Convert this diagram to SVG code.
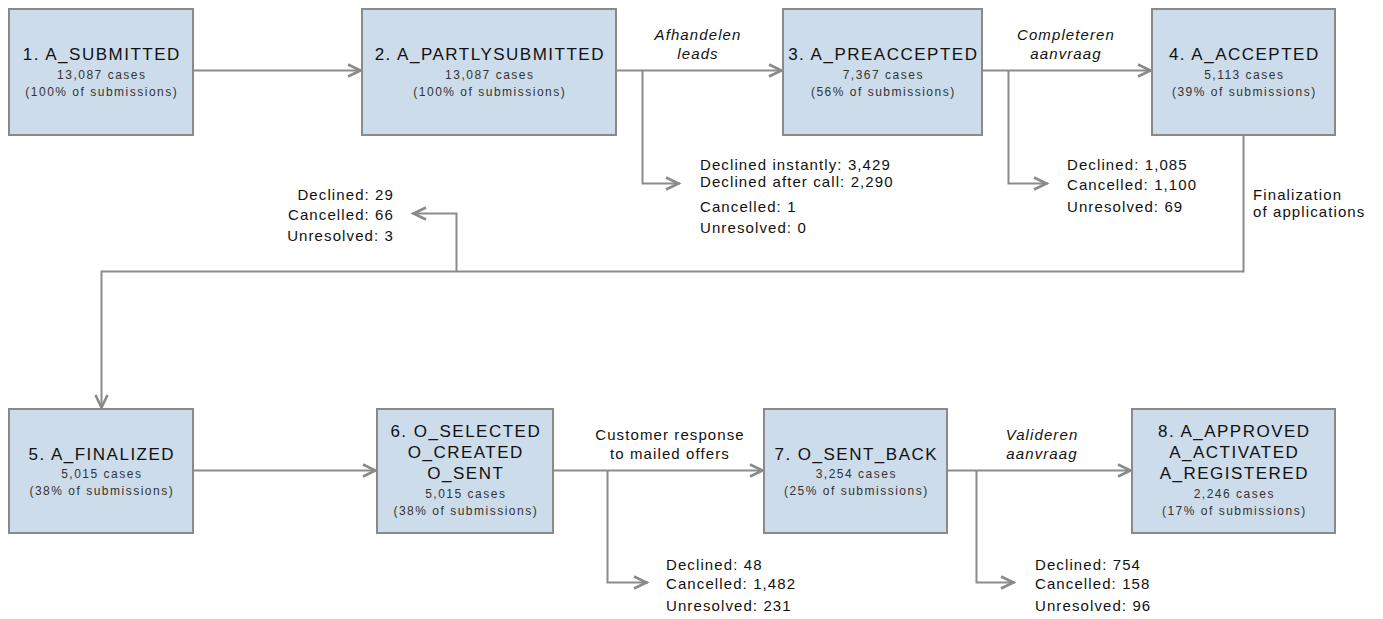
<svg xmlns="http://www.w3.org/2000/svg" width="1383" height="619" viewBox="0 0 1383 619">
  <style>
    .box { fill: #cddcea; stroke: #8a8a8a; stroke-width: 2; }
    .title { font-family: "Liberation Sans", Arial, sans-serif; font-size: 17px; letter-spacing: 1.5px; fill: #111; text-anchor: middle; }
    .sub { font-family: "Liberation Sans", Arial, sans-serif; font-size: 12px; letter-spacing: 1.5px; fill: #333; text-anchor: middle; }
    .edge { fill: none; stroke: #8c8c8c; stroke-width: 2; }
    .lbl { font-family: "Liberation Sans", Arial, sans-serif; font-size: 15px; letter-spacing: 1.1px; fill: #111; }
    .it { font-style: italic; text-anchor: middle; }
    .mid { text-anchor: middle; }
    .end { text-anchor: end; }
  </style>
  <defs>
    <marker id="chev" viewBox="-16 -8 18 16" refX="0" refY="0" markerWidth="18" markerHeight="16" orient="auto" markerUnits="userSpaceOnUse">
      <path d="M-14,-6 L-1.5,0 L-14,6" fill="none" stroke="#8a8a8a" stroke-width="2.6"/>
    </marker>
  </defs>

  <rect width="1383" height="619" fill="#ffffff"/>

  <!-- connectors -->
  <g id="connectors">
    <path class="edge" d="M193,70.5 H362" marker-end="url(#chev)"/>
    <path class="edge" d="M616,70.5 H783" marker-end="url(#chev)"/>
    <path class="edge" d="M642.5,70.5 V183.5 H680" marker-end="url(#chev)"/>
    <path class="edge" d="M982,70.5 H1152" marker-end="url(#chev)"/>
    <path class="edge" d="M1008.5,70.5 V183.5 H1048" marker-end="url(#chev)"/>
    <path class="edge" d="M1243.5,135 V271.5 H101.5 V409" marker-end="url(#chev)"/>
    <path class="edge" d="M456.5,271.5 V213.5 H412" marker-end="url(#chev)"/>
    <path class="edge" d="M193,470.5 H377" marker-end="url(#chev)"/>
    <path class="edge" d="M553,470.5 H764" marker-end="url(#chev)"/>
    <path class="edge" d="M607.5,470.5 V582.5 H648" marker-end="url(#chev)"/>
    <path class="edge" d="M947,470.5 H1132" marker-end="url(#chev)"/>
    <path class="edge" d="M976.5,470.5 V582.5 H1015" marker-end="url(#chev)"/>

    <!-- transition labels -->
    <text class="lbl it" x="698" y="40">Afhandelen</text>
    <text class="lbl it" x="698" y="59">leads</text>
    <text class="lbl it" x="1066" y="40">Completeren</text>
    <text class="lbl it" x="1066" y="59">aanvraag</text>
    <text class="lbl" x="1253" y="200">Finalization</text>
    <text class="lbl" x="1253" y="217">of applications</text>
    <text class="lbl mid" x="670" y="440">Customer response</text>
    <text class="lbl mid" x="670" y="459">to mailed offers</text>
    <text class="lbl it" x="1042" y="440">Valideren</text>
    <text class="lbl it" x="1042" y="459">aanvraag</text>

    <!-- outcome counts -->
    <text class="lbl" x="700" y="170">Declined instantly: 3,429</text>
    <text class="lbl" x="700" y="187">Declined after call: 2,290</text>
    <text class="lbl" x="700" y="212">Cancelled: 1</text>
    <text class="lbl" x="700" y="233">Unresolved: 0</text>

    <text class="lbl" x="1067" y="170">Declined: 1,085</text>
    <text class="lbl" x="1067" y="190">Cancelled: 1,100</text>
    <text class="lbl" x="1067" y="212">Unresolved: 69</text>

    <text class="lbl end" x="394" y="200">Declined: 29</text>
    <text class="lbl end" x="394" y="220">Cancelled: 66</text>
    <text class="lbl end" x="394" y="241">Unresolved: 3</text>

    <text class="lbl" x="666" y="570">Declined: 48</text>
    <text class="lbl" x="666" y="589">Cancelled: 1,482</text>
    <text class="lbl" x="666" y="611">Unresolved: 231</text>

    <text class="lbl" x="1035" y="570">Declined: 754</text>
    <text class="lbl" x="1035" y="589">Cancelled: 158</text>
    <text class="lbl" x="1035" y="611">Unresolved: 96</text>
  </g>

  <!-- states -->
  <g id="n1">
    <rect class="box" x="9" y="9" width="184" height="126"/>
    <text class="title" x="101.8" y="60">1. A_SUBMITTED</text>
    <text class="sub" x="101.8" y="79">13,087 cases</text>
    <text class="sub" x="101.8" y="96">(100% of submissions)</text>
  </g>
  <g id="n2">
    <rect class="box" x="362" y="9" width="254" height="126"/>
    <text class="title" x="489.8" y="60">2. A_PARTLYSUBMITTED</text>
    <text class="sub" x="489.8" y="79">13,087 cases</text>
    <text class="sub" x="489.8" y="96">(100% of submissions)</text>
  </g>
  <g id="n3">
    <rect class="box" x="783" y="9" width="199" height="126"/>
    <text class="title" x="883.3" y="60">3. A_PREACCEPTED</text>
    <text class="sub" x="883.3" y="79">7,367 cases</text>
    <text class="sub" x="883.3" y="96">(56% of submissions)</text>
  </g>
  <g id="n4">
    <rect class="box" x="1152" y="9" width="183" height="126"/>
    <text class="title" x="1244.3" y="60">4. A_ACCEPTED</text>
    <text class="sub" x="1244.3" y="79">5,113 cases</text>
    <text class="sub" x="1244.3" y="96">(39% of submissions)</text>
  </g>
  <g id="n5">
    <rect class="box" x="9" y="409" width="184" height="124"/>
    <text class="title" x="101.8" y="460">5. A_FINALIZED</text>
    <text class="sub" x="101.8" y="478">5,015 cases</text>
    <text class="sub" x="101.8" y="495">(38% of submissions)</text>
  </g>
  <g id="n6">
    <rect class="box" x="377" y="409" width="176" height="124"/>
    <text class="title" x="465.8" y="437">6. O_SELECTED</text>
    <text class="title" x="465.8" y="458">O_CREATED</text>
    <text class="title" x="465.8" y="479">O_SENT</text>
    <text class="sub" x="465.8" y="498">5,015 cases</text>
    <text class="sub" x="465.8" y="515">(38% of submissions)</text>
  </g>
  <g id="n7">
    <rect class="box" x="764" y="409" width="183" height="124"/>
    <text class="title" x="856.3" y="460">7. O_SENT_BACK</text>
    <text class="sub" x="856.3" y="478">3,254 cases</text>
    <text class="sub" x="856.3" y="495">(25% of submissions)</text>
  </g>
  <g id="n8">
    <rect class="box" x="1132" y="409" width="203" height="124"/>
    <text class="title" x="1234.3" y="437">8. A_APPROVED</text>
    <text class="title" x="1234.3" y="458">A_ACTIVATED</text>
    <text class="title" x="1234.3" y="479">A_REGISTERED</text>
    <text class="sub" x="1234.3" y="498">2,246 cases</text>
    <text class="sub" x="1234.3" y="515">(17% of submissions)</text>
  </g>
</svg>
